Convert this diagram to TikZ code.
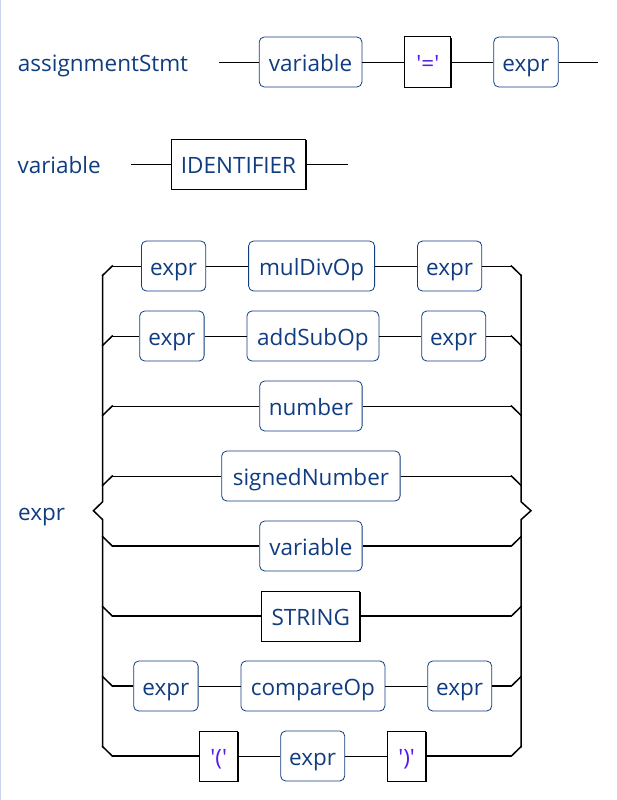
\documentclass[tikz,border=0pt]{standalone}
\usepackage{fontspec}
\setmainfont{Open Sans}
\usetikzlibrary{positioning,shadows}
\definecolor{ruleblue}{RGB}{16,60,128}
\definecolor{quoteviolet}{RGB}{85,25,235}
\definecolor{edgegrey}{RGB}{205,212,235}
\newcommand{\quoted}[1]{\textcolor{quoteviolet}{\textquotesingle#1\textquotesingle}}
\tikzset{
  railtext/.style={text height=22.5pt, text depth=3.1pt},
  nonterm/.style={railtext, draw=ruleblue, text=ruleblue, rounded corners=5pt, line width=0.8pt,
    minimum height=50pt, inner sep=0pt},
  term/.style={railtext, draw=black, fill=white, text=ruleblue, line width=1pt,
    minimum height=50pt, inner sep=0pt,
    drop shadow={opacity=1, fill=black, shadow xshift=1.3pt, shadow yshift=-1.3pt}},
  rail/.style={line width=0.9pt},
  thickrail/.style={line width=1.4pt},
  bracket/.style={line width=1.5pt, line cap=rect},
  rulename/.style={railtext, text=ruleblue, anchor=west, inner sep=0pt},
}

\begin{document}
\begin{tikzpicture}[x=1pt, y=-1pt, font=\fontsize{22.5}{27}\selectfont]
    \useasboundingbox (0,0) rectangle (617,800);
    \draw[edgegrey, line width=1.4pt] (0.7,0) -- (0.7,800);

    % assignmentStmt
    \node[rulename] (t-assign) at (17.7,62) {assignmentStmt};
    \coordinate (a-in) at (219,62);
    \node[nonterm, minimum width=102.7pt] (a-var) at (310.6,62) {variable};
    \node[term, minimum width=46pt, right=42pt of a-var] (a-eq) {\quoted{=}};
    \node[nonterm, minimum width=64.4pt, right=42pt of a-eq] (a-expr) {expr};
    \coordinate (a-out) at (597.7,62);
    \draw[rail] (a-in) -- (a-var) -- (a-eq) -- (a-expr) -- (a-out);

    % variable
    \node[rulename] (t-var) at (17.3,164) {variable};
    \coordinate (v-in) at (131,164);
    \node[term, minimum width=134.4pt] (v-id) at (238.5,164) {IDENTIFIER};
    \coordinate (v-out) at (347.7,164);
    \draw[rail] (v-in) -- (v-id) -- (v-out);

    % expr
    \node[rulename] (t-expr) at (18,510.7) {expr};
    \draw[bracket] (102.7,275.3) -- (102.7,501.7) -- (93.4,510.7) -- (102.7,519.7) -- (102.7,746.7);
    \draw[bracket] (521,275.3) -- (521,501.7) -- (531,510.7) -- (521,519.7) -- (521,746.7);
    \foreach[count=\k, evaluate=\k as \y using 196+70*\k] \xs/\m/\items in {
        141/3/{expr/nonterm/64.4, mulDivOp/nonterm/126, expr/nonterm/64.4},
        139.3/3/{expr/nonterm/64.4, addSubOp/nonterm/132, expr/nonterm/64},
        259.3/1/{number/nonterm/102.4},
        221.3/1/{signedNumber/nonterm/178.4},
        259.3/1/{variable/nonterm/102.4},
        261.3/1/{STRING/term/98},
        133.3/3/{expr/nonterm/64.4, compareOp/nonterm/144, expr/nonterm/64},
        199.3/3/{\quoted{(}/term/38, expr/nonterm/64, \quoted{)}/term/38}} {
        \coordinate (l-\k) at (112.3,\y);
        \coordinate (r-\k) at (511.4,\y);
        \foreach[count=\j] \txt/\sty/\w in \items {
            \ifnum\j=1
                \node[\sty, minimum width=\w pt, anchor=west] (n-\k-\j) at (\xs,\y) {\txt};
            \else
                \pgfmathtruncatemacro\prev{\j-1}
                \node[\sty, minimum width=\w pt, right=42pt of n-\k-\prev] (n-\k-\j) {\txt};
                \draw[rail] (n-\k-\prev) -- (n-\k-\j);
            \fi
        }
        \ifnum\k<5
            \draw[bracket] (102.7,\y+9.3) -- (l-\k);
            \draw[bracket] (r-\k) -- (521,\y+9.3);
            \draw[rail] (l-\k) -- (n-\k-1);
            \draw[rail] (n-\k-\m) -- (r-\k);
        \else
            \draw[bracket] (102.7,\y-9.3) -- (l-\k);
            \draw[bracket] (r-\k) -- (521,\y-9.3);
            \draw[thickrail] (l-\k) -- (n-\k-1);
            \draw[thickrail] (n-\k-\m) -- (r-\k);
        \fi
    }
\end{tikzpicture}
\end{document}
